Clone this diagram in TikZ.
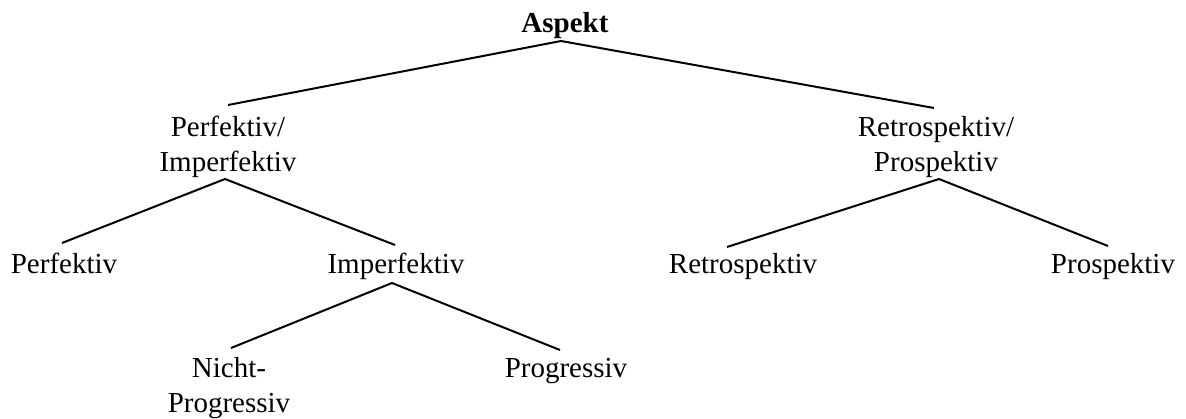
\documentclass[tikz,border=0pt]{standalone}
\usepackage{fontspec}
\setmainfont{Liberation Serif}
\tikzset{
  label/.style={inner sep=0pt, anchor=base, font=\fontsize{29}{35}\selectfont},
  edge/.style={line width=2pt, black}
}
\newcommand{\twolines}[2]{\begin{tabular}[t]{@{}c@{}}#1\\#2\end{tabular}}
\begin{document}
\begin{tikzpicture}[x=1pt, y=-1pt]
  \useasboundingbox (0,0) rectangle (1186,418);
  % labels (placed by their first baseline)
  \node[label] (asp) at (565,32) {\textbf{Aspekt}};
  \node[label] (pi)  at (228,136) {\twolines{Perfektiv/}{Imperfektiv}};
  \node[label] (rp)  at (936,136) {\twolines{Retrospektiv/}{Prospektiv}};
  \node[label] (pf)  at (64,273)  {Perfektiv};
  \node[label] (ipf) at (396,273) {Imperfektiv};
  \node[label] (rs)  at (743,273) {Retrospektiv};
  \node[label] (ps)  at (1113,273) {Prospektiv};
  \node[label] (np)  at (229,377) {\twolines{Nicht-}{Progressiv}};
  \node[label] (pg)  at (566,377) {Progressiv};
  % branches
  \draw[edge] ([shift={(-2pt,28pt)}]rp.base) -- ([shift={(-4pt,-9pt)}]asp.base) -- ([shift={(0pt,31pt)}]pi.base);
  \draw[edge] ([shift={(-2pt,30pt)}]pf.base) -- ([shift={(-3pt,-43pt)}]pi.base) -- ([shift={(-1pt,28pt)}]ipf.base);
  \draw[edge] ([shift={(-16pt,26pt)}]rs.base) -- ([shift={(3pt,-43pt)}]rp.base) -- ([shift={(-5pt,27pt)}]ps.base);
  \draw[edge] ([shift={(2pt,29pt)}]np.base) -- ([shift={(-4pt,-10pt)}]ipf.base) -- ([shift={(-6pt,27pt)}]pg.base);
\end{tikzpicture}
\end{document}
